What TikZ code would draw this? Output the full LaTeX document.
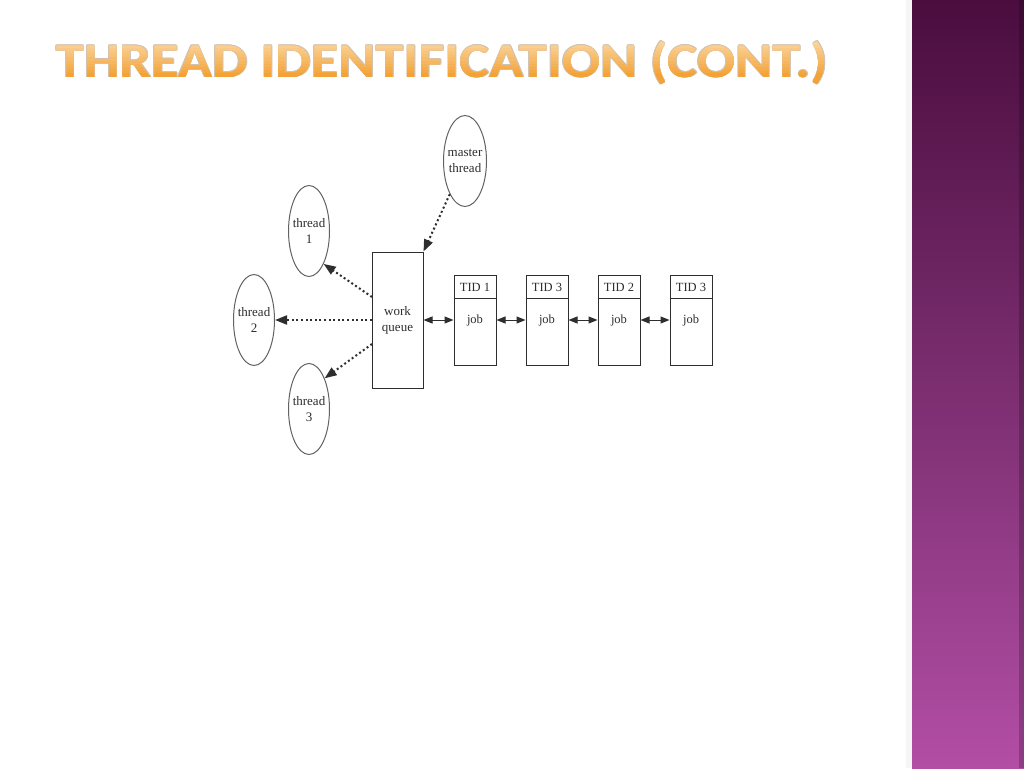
\documentclass[tikz,border=0pt]{standalone}
\usepackage{fontspec}
\setmainfont{Liberation Serif}
\newfontfamily\titlefont{Carlito}
\usetikzlibrary{arrows.meta,shapes.geometric}
\definecolor{bartop}{HTML}{4A0D3E}
\definecolor{barmid}{HTML}{7B2E70}
\definecolor{barbot}{HTML}{B24EA5}
\definecolor{titletop}{HTML}{FDE2B6}
\definecolor{titlebot}{HTML}{F4A236}
\definecolor{titleedge}{HTML}{D2C2AE}
\definecolor{ink}{HTML}{2E2E2E}
\newcommand{\titletxt}{\scalebox{1}[0.86]{\resizebox{772pt}{!}{\titlefont\bfseries THREAD IDENTIFICATION (CONT.)}}}
\begin{document}
\begin{tikzpicture}[x=1pt,y=-1pt,
  thr/.style={ellipse,draw=ink!75,line width=1pt,minimum width=41pt,minimum height=91pt,inner sep=0pt},
  ttext/.style={align=center,font=\fontsize{13}{16}\selectfont,text=ink,inner sep=0pt},
  qbox/.style={draw=ink,line width=1pt,minimum width=51pt,minimum height=136pt,inner sep=0pt,align=center,font=\fontsize{13}{16}\selectfont,text=ink},
  jobbox/.style={draw=ink,line width=1pt,minimum width=42pt,minimum height=90pt,inner sep=0pt},
  lbl/.style={font=\fontsize{12.5}{15}\selectfont,text=ink,inner sep=0pt},
  titlenode/.style={anchor=west,inner sep=0pt},
  dotarrow/.style={ink,line width=2pt,dash pattern=on 2pt off 2.6pt,-{Triangle[length=12pt,width=9pt]}},
  dblarrow/.style={ink,line width=1pt,{Triangle[length=9pt,width=7pt]}-{Triangle[length=9pt,width=7pt]}}
]
\useasboundingbox (0,0) rectangle (1024,768);
\fill[white] (0,0) rectangle (1024,768);
% right bar
\fill[gray!7] (906,0) rectangle (912,768);
\shade[top color=bartop,bottom color=barbot,middle color=barmid] (912,0) rectangle (1024,768);
\fill[black,opacity=0.2] (1019,0) rectangle (1024,768);
% title: outline copies
\coordinate (title) at (56,63);
\foreach \dx/\dy in {0.6/0,-0.6/0,0/0.6,0/-0.6,0.45/0.45,-0.45/0.45,0.45/-0.45,-0.45/-0.45}{
  \node[titlenode,text=titleedge] at ([shift={(\dx,\dy)}]title) {\titletxt};
}
% title: gradient fill in bands
\foreach \k in {0,...,17}{
  \pgfmathsetmacro\p{min(100,100*\k/13)}
  \begin{scope}
    \clip (40,34+3*\k) rectangle (840,37.2+3*\k);
    \node[titlenode,text=titlebot!\p!titletop] at (title) {\titletxt};
  \end{scope}
}
% nodes
\node[thr,minimum width=43pt] (m) at (465,161) {};
\node[ttext] (mt) at (m) {master\\thread};
\node[thr] (t1) at (309,231) {};
\node[ttext] (t1t) at (t1) {thread\\1};
\node[thr] (t2) at (254,320) {};
\node[ttext] (t2t) at (t2) {thread\\2};
\node[thr] (t3) at (309,409) {};
\node[ttext] (t3t) at (t3) {thread\\3};
\node[qbox] (wq) at (397.5,320) {work\\queue};
\foreach \i/\x/\t in {1/475/TID 1,2/547/TID 3,3/619/TID 2,4/691/TID 3}{
  \node[jobbox] (j\i) at (\x,320) {};
  \draw[ink,line width=1pt] (j\i.west |- 0,298) -- (j\i.east |- 0,298);
  \node[lbl] (h\i) at (\x,287.5) {\t};
  \node[lbl] (b\i) at (\x,320.5) {job};
}
% dotted arrows
\coordinate (s1) at (372,297);
\coordinate (s2) at (372,320);
\coordinate (s3) at (372,344);
\draw[dotarrow] (s1) -- (t1.-66);
\draw[dotarrow] (s2) -- (t2);
\draw[dotarrow] (s3) -- (t3.63);
\draw[dotarrow] (m) -- (wq.north east);
% double arrows
\draw[dblarrow] (wq.east) -- (j1.west);
\draw[dblarrow] (j1.east) -- (j2.west);
\draw[dblarrow] (j2.east) -- (j3.west);
\draw[dblarrow] (j3.east) -- (j4.west);
\end{tikzpicture}
\end{document}
